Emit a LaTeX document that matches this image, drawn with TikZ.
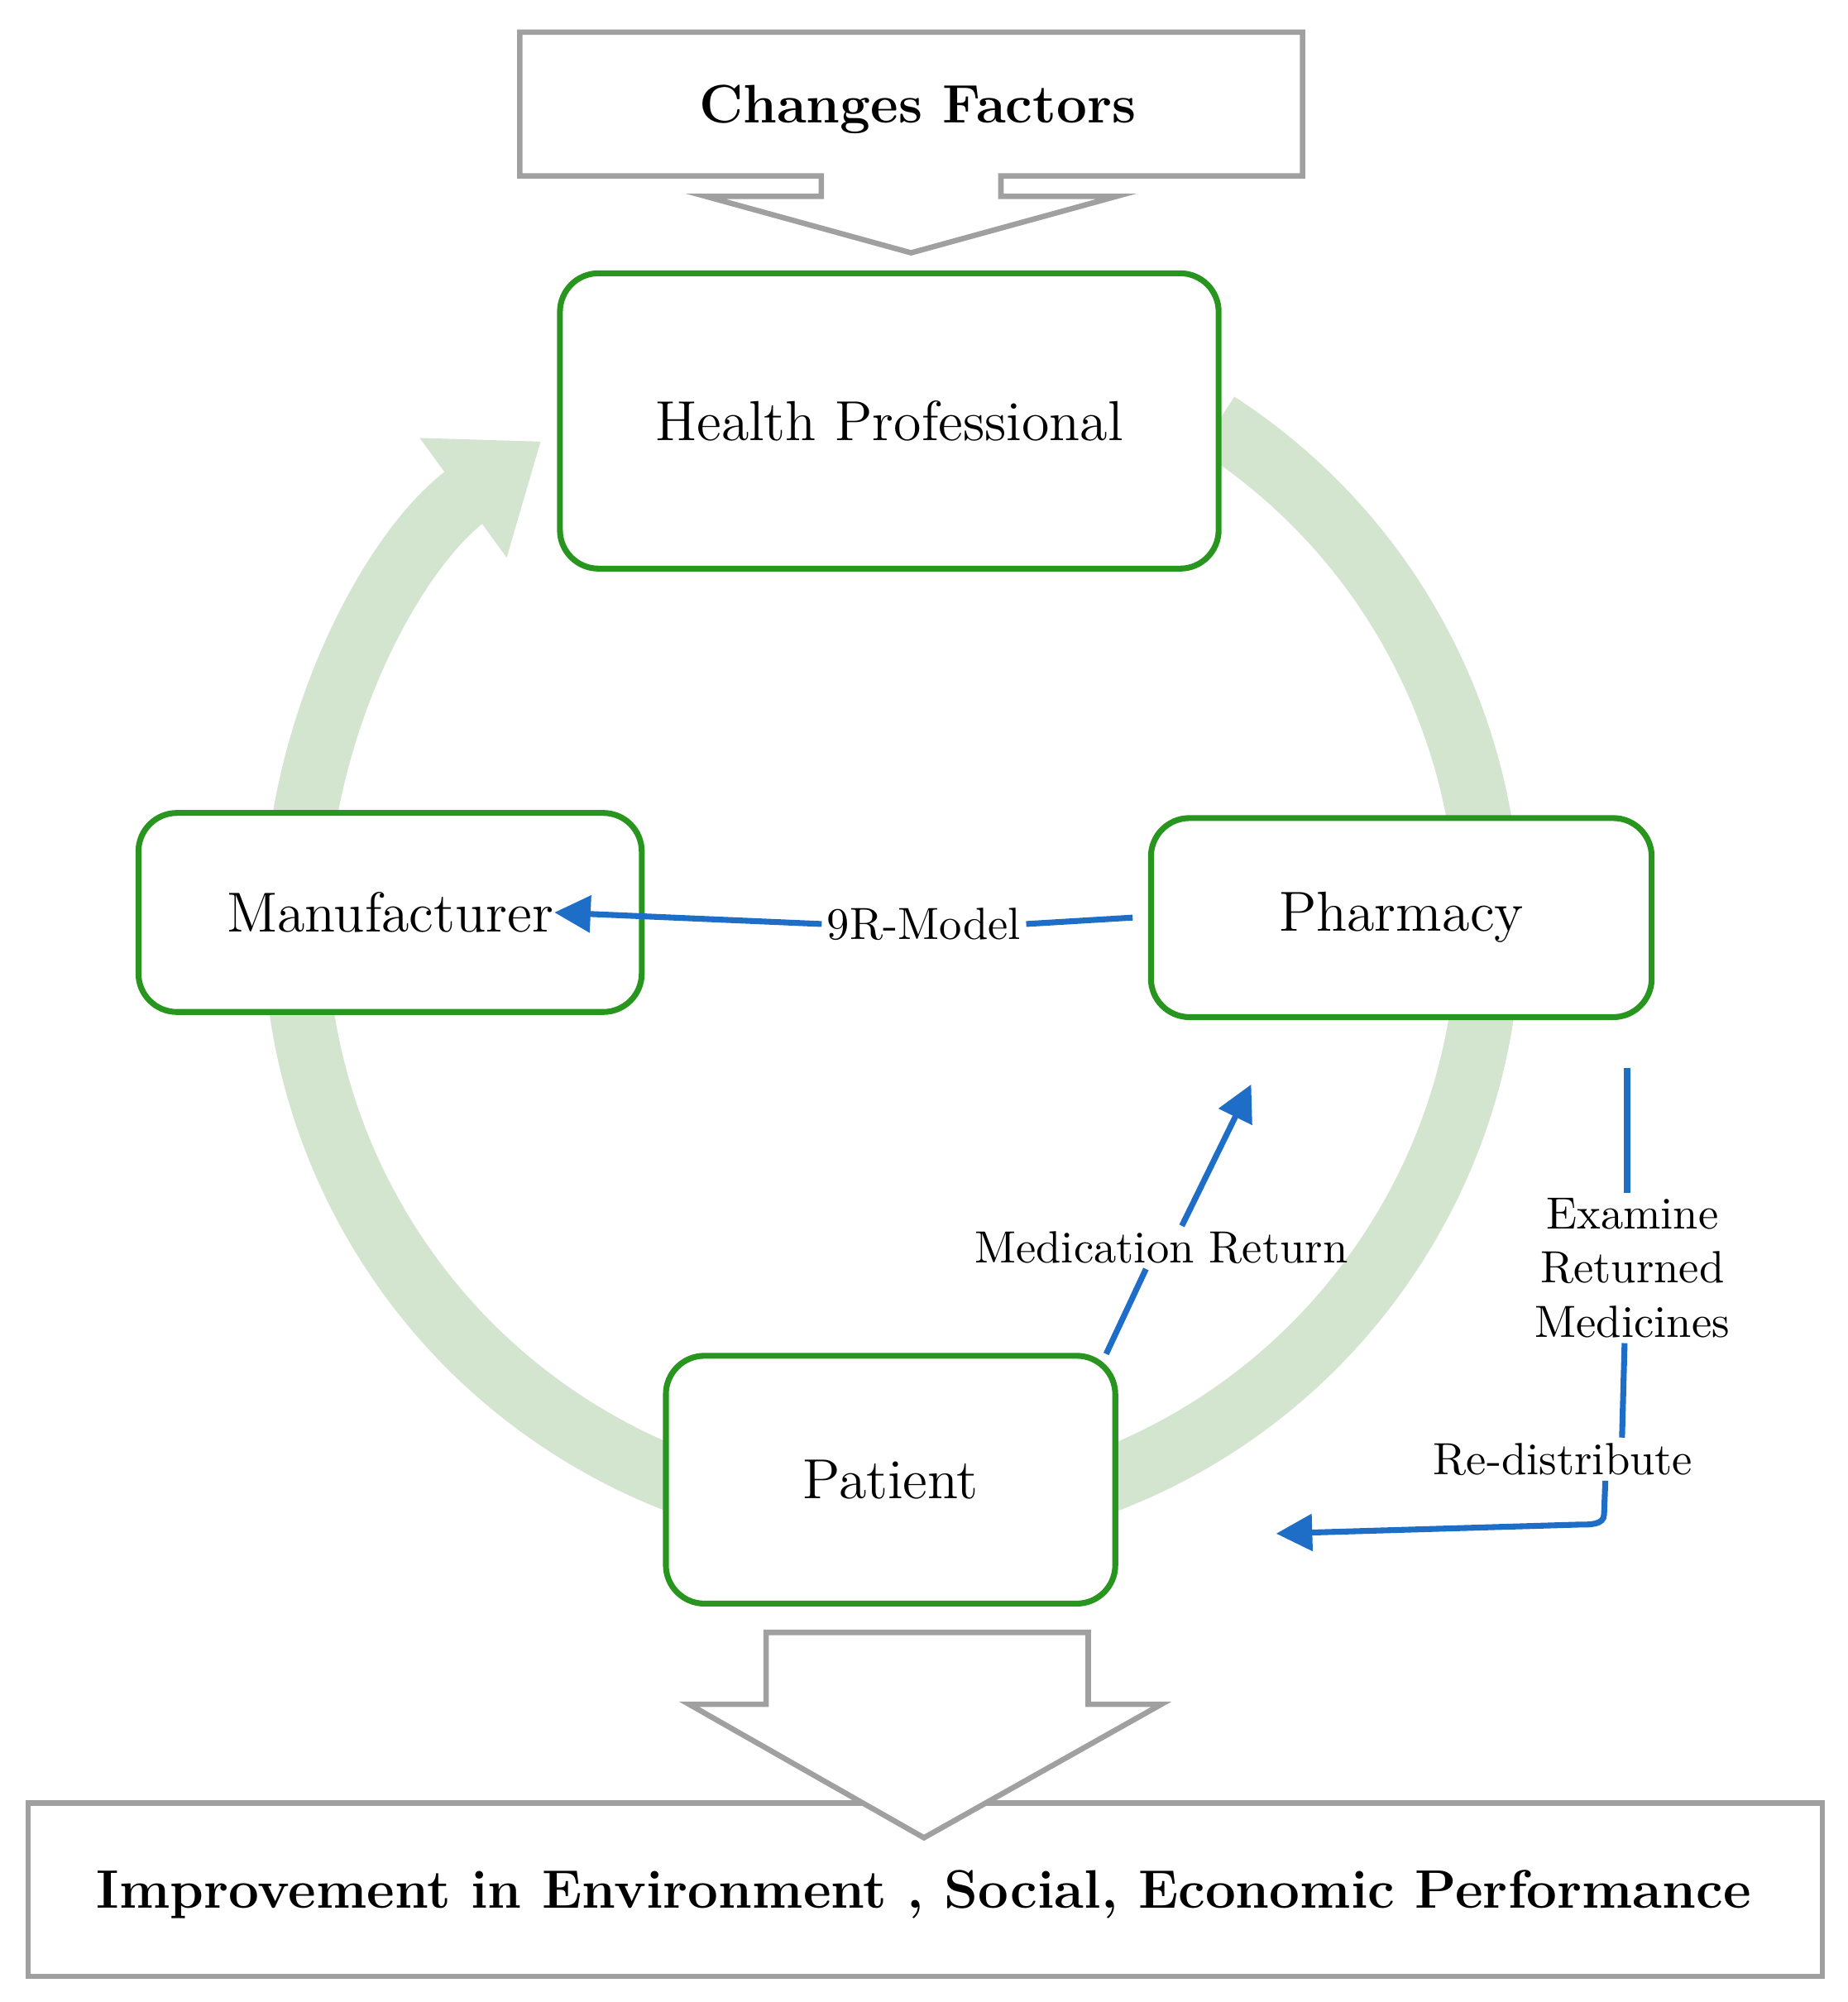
\documentclass[tikz,border=0pt]{standalone}
\usetikzlibrary{arrows.meta}
\definecolor{ring}{RGB}{211,228,207}
\definecolor{bx}{RGB}{40,150,30}
\definecolor{bl}{RGB}{30,110,200}
\definecolor{gr}{RGB}{160,160,160}
\begin{document}
\begin{tikzpicture}[x=0.01cm,y=0.01cm,
  box/.style={draw=bx,line width=1.3pt,rounded corners=0.3cm,fill=white,font=\fontsize{12.5}{14}\selectfont},
  garrow/.style={draw=gr,line width=1.2pt,fill=white},
  blu/.style={draw=bl,line width=1.3pt},
  lab/.style={font=\fontsize{10}{12}\selectfont,align=center,inner sep=1pt}]
\useasboundingbox (0,0) rectangle (1440,-1560);
% ring
\draw[ring,line width=0.5cm,-{Triangle[width=1.1cm,length=0.75cm]}] (695,-720) ++(57:465) arc[start angle=57,end angle=-234,radius=465];
% top callout
\draw[garrow] (405,-25) -- (1015,-25) -- (1015,-137) -- (780,-137) -- (780,-153) -- (870,-153) -- (710,-197) -- (550,-153) -- (640,-153) -- (640,-137) -- (405,-137) -- cycle;
\node[font=\bfseries\fontsize{12}{14}\selectfont] (cf) at (715,-85) {Changes Factors};
% bottom
\draw[garrow] (22,-1405) rectangle (1420,-1540);
\draw[garrow] (597,-1272) -- (848,-1272) -- (848,-1328) -- (905,-1328) -- (720,-1432) -- (537,-1328) -- (597,-1328) -- cycle;
\node[font=\bfseries\fontsize{12}{14}\selectfont] (imp) at (720,-1476) {Improvement in Environment , Social, Economic Performance};
% boxes
\node[box,minimum width=5.13cm,minimum height=2.3cm] (hp) at (693,-328) {Health Professional};
\node[box,minimum width=3.92cm,minimum height=1.55cm] (man) at (304,-711) {Manufacturer};
\node[box,minimum width=3.9cm,minimum height=1.55cm] (ph) at (1092,-715) {Pharmacy};
\node[box,minimum width=3.5cm,minimum height=1.93cm] (pat) at (694,-1153) {Patient};
% blue connectors
\node[lab] (nr) at (720,-720) {9R-Model};
\draw[blu] (ph.west) ++(-12,0) -- (nr.east);
\draw[blu,-{Triangle[width=8pt,length=8pt]}] (nr.west) -- ([xshift=-20]man.east);
\node[lab] (mr) at (905,-972) {Medication Return};
\draw[blu] (862,-1055) -- (mr.south-|893,0) ;
\draw[blu,-{Triangle[width=8pt,length=8pt]}] (mr.north-|921,0) -- (975,-845);
\coordinate (s) at (1268,-832);
\node[lab] (ex) at (1272,-988) {Examine\\Returned\\Medicines};
\node[lab] (rd) at (1218,-1137) {Re-distribute};
\draw[blu] (s) -- (ex.north-|s);
\draw[blu] (ex.south-|1266,0) -- (rd.north-|1264,0);
\draw[blu,-{Triangle[width=8pt,length=8pt]}] (rd.south-|1251,0) -- (1250,-1180) to[out=-90,in=0] (1230,-1188) -- ([xshift=35]pat.east|-0,-1195);
\end{tikzpicture}
\end{document}
